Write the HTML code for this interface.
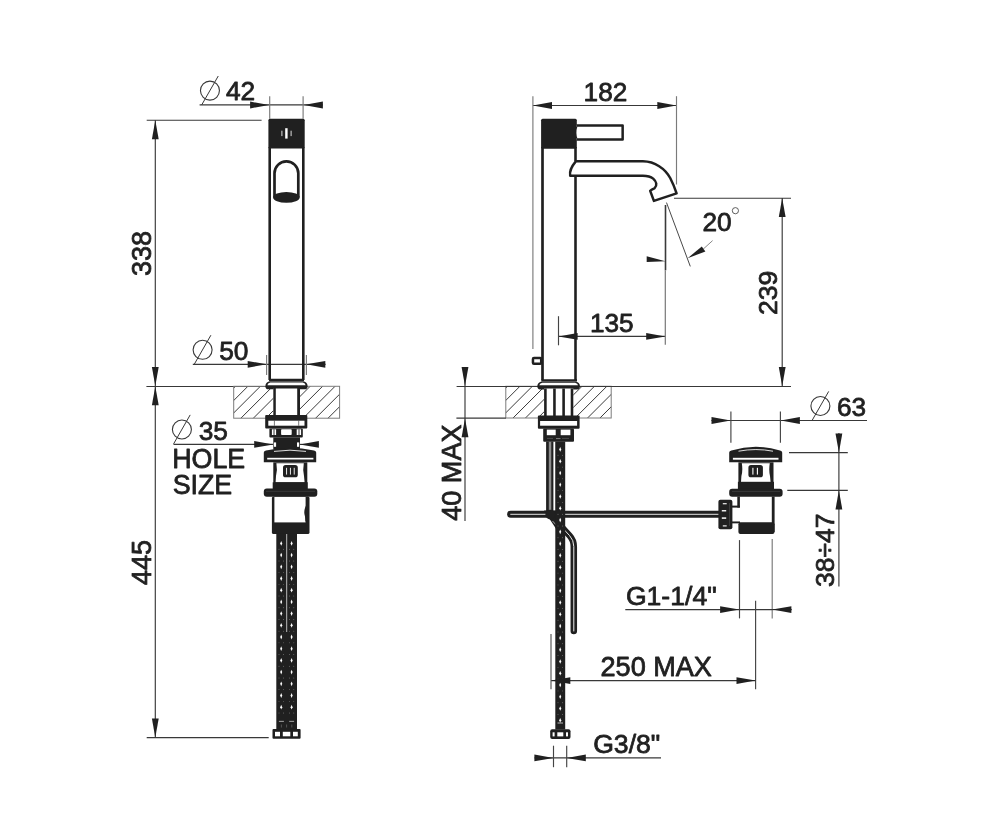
<!DOCTYPE html>
<html><head><meta charset="utf-8"><title>Dimension drawing</title>
<style>
html,body{margin:0;padding:0;background:#fff;}
body{width:988px;height:830px;overflow:hidden;}
svg{display:block;will-change:transform;filter:grayscale(1);}
svg text{font-family:"Liberation Sans",sans-serif;fill:#231f20;stroke:#231f20;stroke-width:0.8px;stroke-linejoin:round;}
</style></head>
<body>
<svg width="988" height="830" viewBox="0 0 988 830">
<rect x="0" y="0" width="988" height="830" fill="#ffffff"/>
<circle cx="209.95" cy="90.6" r="9.5" fill="none" stroke="#383838" stroke-width="1.1"/>
<line x1="201.64999999999998" y1="105.0" x2="218.25" y2="76.0" stroke="#383838" stroke-width="1" />
<text x="225.9" y="99.7" font-size="26.3" text-anchor="start" letter-spacing="0">42</text>
<line x1="199.6" y1="104.9" x2="322.8" y2="104.9" stroke="#383838" stroke-width="1.15" />
<polygon points="269.2,105.0 250.1,101.6 250.1,108.4" fill="#231f20"/>
<polygon points="303.8,105.0 322.9,101.6 322.9,108.4" fill="#231f20"/>
<line x1="269.7" y1="96.2" x2="269.7" y2="118.7" stroke="#7a7a7a" stroke-width="1.15" />
<line x1="303.1" y1="96.2" x2="303.1" y2="118.7" stroke="#7a7a7a" stroke-width="1.15" />
<line x1="146.7" y1="120.2" x2="261.6" y2="120.2" stroke="#383838" stroke-width="1.15" />
<line x1="155.3" y1="120.2" x2="155.3" y2="737.6" stroke="#383838" stroke-width="1.15" />
<polygon points="155.3,120.2 151.9,139.3 158.7,139.3" fill="#231f20"/>
<polygon points="155.3,386.0 151.9,366.9 158.7,366.9" fill="#231f20"/>
<polygon points="155.3,386.2 151.9,405.3 158.7,405.3" fill="#231f20"/>
<polygon points="155.3,737.6 151.9,718.5 158.7,718.5" fill="#231f20"/>
<text x="151.3" y="253.5" font-size="27.1" text-anchor="middle" letter-spacing="0" transform="rotate(-90 151.3 253.5)">338</text>
<text x="151.3" y="562.5" font-size="27.1" text-anchor="middle" letter-spacing="0" transform="rotate(-90 151.3 562.5)">445</text>
<line x1="146.4" y1="386.5" x2="266.6" y2="386.5" stroke="#383838" stroke-width="1.15" />
<line x1="146.7" y1="737.6" x2="268.7" y2="737.6" stroke="#383838" stroke-width="1.15" />
<circle cx="202.6" cy="349.8" r="9.5" fill="none" stroke="#383838" stroke-width="1.1"/>
<line x1="194.29999999999998" y1="364.2" x2="210.9" y2="335.2" stroke="#383838" stroke-width="1" />
<text x="219.2" y="359.6" font-size="26.3" text-anchor="start" letter-spacing="0">50</text>
<line x1="192.8" y1="364.3" x2="325.6" y2="364.3" stroke="#383838" stroke-width="1.15" />
<polygon points="266.8,364.3 247.7,360.9 247.7,367.7" fill="#231f20"/>
<polygon points="306.2,364.3 325.3,360.9 325.3,367.7" fill="#231f20"/>
<line x1="266.6" y1="354.9" x2="266.6" y2="375" stroke="#7a7a7a" stroke-width="1.15" />
<line x1="306.4" y1="354.9" x2="306.4" y2="375" stroke="#7a7a7a" stroke-width="1.15" />
<clipPath id="hc1"><rect x="233.7" y="386.3" width="105.9" height="31.9"/></clipPath>
<g clip-path="url(#hc1)">
<line x1="212.55" y1="384.3" x2="176.65" y2="420.2" stroke="#3a3a3a" stroke-width="1.0" />
<line x1="225.0" y1="384.3" x2="189.1" y2="420.2" stroke="#3a3a3a" stroke-width="1.0" />
<line x1="237.45" y1="384.3" x2="201.55" y2="420.2" stroke="#3a3a3a" stroke-width="1.0" />
<line x1="249.9" y1="384.3" x2="214.0" y2="420.2" stroke="#3a3a3a" stroke-width="1.0" />
<line x1="262.35" y1="384.3" x2="226.45" y2="420.2" stroke="#3a3a3a" stroke-width="1.0" />
<line x1="274.8" y1="384.3" x2="238.9" y2="420.2" stroke="#3a3a3a" stroke-width="1.0" />
<line x1="287.25" y1="384.3" x2="251.35" y2="420.2" stroke="#3a3a3a" stroke-width="1.0" />
<line x1="299.7" y1="384.3" x2="263.8" y2="420.2" stroke="#3a3a3a" stroke-width="1.0" />
<line x1="312.15" y1="384.3" x2="276.25" y2="420.2" stroke="#3a3a3a" stroke-width="1.0" />
<line x1="324.6" y1="384.3" x2="288.7" y2="420.2" stroke="#3a3a3a" stroke-width="1.0" />
<line x1="337.05" y1="384.3" x2="301.15" y2="420.2" stroke="#3a3a3a" stroke-width="1.0" />
<line x1="349.5" y1="384.3" x2="313.6" y2="420.2" stroke="#3a3a3a" stroke-width="1.0" />
<line x1="361.95" y1="384.3" x2="326.05" y2="420.2" stroke="#3a3a3a" stroke-width="1.0" />
<line x1="374.4" y1="384.3" x2="338.5" y2="420.2" stroke="#3a3a3a" stroke-width="1.0" />
</g>
<rect x="233.7" y="386.3" width="105.9" height="31.9" fill="none" stroke="#7c7c7c" stroke-width="1" rx="0"/>
<rect x="268.4" y="118.8" width="36.3" height="29.8" fill="#231f20" stroke="none" stroke-width="0" rx="1.5"/>
<rect x="285.2" y="128.2" width="2.4" height="10.4" fill="#fff" stroke="none" stroke-width="0" rx="0"/>
<rect x="281.4" y="130.7" width="1.0" height="5.4" fill="#ddd" stroke="none" stroke-width="0" rx="0"/>
<rect x="290.6" y="130.7" width="1.0" height="5.4" fill="#ddd" stroke="none" stroke-width="0" rx="0"/>
<line x1="269.7" y1="147" x2="269.7" y2="380" stroke="#231f20" stroke-width="2.6" />
<line x1="303.3" y1="147" x2="303.3" y2="380" stroke="#231f20" stroke-width="2.6" />
<line x1="269" y1="379.8" x2="304" y2="379.8" stroke="#231f20" stroke-width="2.2" />
<path d="M274.5,197 L274.5,173.3 A11.9,11.9 0 0 1 298.3,173.3 L298.3,197" fill="#fff" stroke="#231f20" stroke-width="2.7"/>
<ellipse cx="286.4" cy="197.4" rx="13.3" ry="5.4" fill="#231f20"/>
<path d="M269.5,381.2 L303.5,381.2 Q307.6,382.3 307.6,386.2 Q307.6,389.3 304.8,389.3 L268.2,389.3 Q265.4,389.3 265.4,386.2 Q265.4,382.3 269.5,381.2 Z" fill="#231f20"/>
<path d="M270.2,382.6 L302.8,382.6 Q305.4,383.3 305.6,385.2 L267.4,385.2 Q267.6,383.3 270.2,382.6 Z" fill="#fff"/>
<rect x="273.3" y="388.5" width="26.7" height="27.5" fill="#fff" stroke="none" stroke-width="0" rx="0"/>
<line x1="274.55" y1="388" x2="274.55" y2="416" stroke="#231f20" stroke-width="2.5" />
<line x1="298.6" y1="388" x2="298.6" y2="416" stroke="#231f20" stroke-width="2.8" />
<rect x="265.2" y="415.1" width="42.1" height="13.4" fill="#231f20" stroke="none" stroke-width="0" rx="1"/>
<rect x="268.3" y="420.7" width="36.2" height="5.0" fill="#fff" stroke="none" stroke-width="0" rx="0"/>
<line x1="274.4" y1="420.7" x2="274.4" y2="425.7" stroke="#231f20" stroke-width="0.6" />
<line x1="298.7" y1="420.7" x2="298.7" y2="425.7" stroke="#231f20" stroke-width="0.6" />
<rect x="269.4" y="428.4" width="33.4" height="9.2" fill="#231f20" stroke="none" stroke-width="0" rx="1"/>
<rect x="281.1" y="429.3" width="10.6" height="5.7" fill="#fff" stroke="none" stroke-width="0" rx="0.8"/>
<rect x="271.9" y="429.3" width="4.2" height="5.7" fill="#fff" stroke="none" stroke-width="0" rx="0"/>
<line x1="274" y1="429.3" x2="274" y2="435" stroke="#231f20" stroke-width="0.9" />
<rect x="296.7" y="429.3" width="4.4" height="5.7" fill="#fff" stroke="none" stroke-width="0" rx="0"/>
<line x1="299" y1="429.3" x2="299" y2="435" stroke="#231f20" stroke-width="0.9" />
<rect x="273.3" y="437.4" width="26.7" height="12.1" fill="#231f20" stroke="none" stroke-width="0" rx="0"/>
<rect x="273.9" y="442.4" width="2.2" height="4.4" fill="#fff" stroke="none" stroke-width="0" rx="0"/>
<rect x="297" y="442.4" width="2.2" height="4.4" fill="#fff" stroke="none" stroke-width="0" rx="0"/>
<circle cx="181.9" cy="429.5" r="9.5" fill="none" stroke="#383838" stroke-width="1.1"/>
<line x1="173.6" y1="443.9" x2="190.20000000000002" y2="414.9" stroke="#383838" stroke-width="1" />
<text x="198.7" y="439.5" font-size="26.3" text-anchor="start" letter-spacing="0">35</text>
<line x1="173.5" y1="444.4" x2="273" y2="444.4" stroke="#383838" stroke-width="1.15" />
<line x1="300" y1="444.4" x2="318.5" y2="444.4" stroke="#383838" stroke-width="1.15" />
<polygon points="273.3,444.4 254.2,441.0 254.2,447.8" fill="#231f20"/>
<polygon points="299.8,444.4 318.9,441.0 318.9,447.8" fill="#231f20"/>
<text x="172.2" y="468.0" font-size="26.8" text-anchor="start" letter-spacing="0">HOLE</text>
<text x="172.7" y="494.3" font-size="26.8" text-anchor="start" letter-spacing="0">SIZE</text>
<path d="M263.8,462.3 L263.8,452.5 Q263.8,450.8 266,450.4 Q290,445.0 314,450.4 Q316.2,450.8 316.2,452.5 L316.2,462.3 Z" fill="#231f20"/>
<path d="M274,451.4 Q290,449.0 306,451.4" fill="none" stroke="#f4f4f4" stroke-width="0.9"/>
<rect x="267.2" y="457.8" width="46.2" height="1.7" fill="#fff" stroke="none" stroke-width="0" rx="0"/>
<rect x="273.3" y="462.3" width="34.0" height="20.7" fill="#231f20" stroke="none" stroke-width="0" rx="0"/>
<path d="M276.4,463.3 Q277.6,470 276.0,476 L275.6,482.3 L304.6,482.3 L304.0,476 Q302.6,470 303.8,463.3 Z" fill="#fff"/>
<rect x="283" y="465.1" width="14.8" height="12.2" fill="#231f20" stroke="none" stroke-width="0" rx="2.6"/>
<rect x="286.15000000000003" y="467.8" width="0.9" height="6.8" fill="#fff" stroke="none" stroke-width="0" rx="0"/>
<rect x="289.95" y="467.8" width="0.9" height="6.8" fill="#fff" stroke="none" stroke-width="0" rx="0"/>
<rect x="293.75" y="467.8" width="0.9" height="6.8" fill="#fff" stroke="none" stroke-width="0" rx="0"/>
<rect x="272.7" y="482.3" width="35.1" height="7.2" fill="#231f20" stroke="none" stroke-width="0" rx="0"/>
<rect x="263.8" y="488.4" width="53.5" height="8.4" fill="#231f20" stroke="none" stroke-width="0" rx="3"/>
<line x1="266" y1="491.3" x2="315" y2="491.3" stroke="#555" stroke-width="0.5" />
<rect x="271.9" y="496.5" width="37.6" height="37.5" fill="#231f20" stroke="none" stroke-width="0" rx="1.6"/>
<rect x="274.4" y="497" width="31.2" height="25.4" fill="#fff" stroke="none" stroke-width="0" rx="0"/>
<path d="M305.8,506 Q303.2,511.5 305,516.5 L305.4,521.5 L307,521.5 L307,504 Z" fill="#231f20"/>
<rect x="276.3" y="533.5" width="20.7" height="195.7" fill="#231f20" stroke="none" stroke-width="0" rx="0"/>
<line x1="286.7" y1="534" x2="286.7" y2="632" stroke="#fff" stroke-width="0.7" />
<path d="M281.2,541.0 L282.2,543.4 L281.2,545.8 L280.2,543.4 Z" fill="#fff"/>
<circle cx="279.0" cy="549.25" r="0.45" fill="#999"/>
<circle cx="283.4" cy="549.25" r="0.45" fill="#999"/>
<path d="M291.6,541.0 L292.6,543.4 L291.6,545.8 L290.6,543.4 Z" fill="#fff"/>
<circle cx="289.40000000000003" cy="549.25" r="0.45" fill="#999"/>
<circle cx="293.8" cy="549.25" r="0.45" fill="#999"/>
<path d="M281.2,552.7 L282.2,555.1 L281.2,557.5 L280.2,555.1 Z" fill="#fff"/>
<circle cx="279.0" cy="560.95" r="0.45" fill="#999"/>
<circle cx="283.4" cy="560.95" r="0.45" fill="#999"/>
<path d="M291.6,552.7 L292.6,555.1 L291.6,557.5 L290.6,555.1 Z" fill="#fff"/>
<circle cx="289.40000000000003" cy="560.95" r="0.45" fill="#999"/>
<circle cx="293.8" cy="560.95" r="0.45" fill="#999"/>
<path d="M281.2,564.4 L282.2,566.8 L281.2,569.2 L280.2,566.8 Z" fill="#fff"/>
<circle cx="279.0" cy="572.65" r="0.45" fill="#999"/>
<circle cx="283.4" cy="572.65" r="0.45" fill="#999"/>
<path d="M291.6,564.4 L292.6,566.8 L291.6,569.2 L290.6,566.8 Z" fill="#fff"/>
<circle cx="289.40000000000003" cy="572.65" r="0.45" fill="#999"/>
<circle cx="293.8" cy="572.65" r="0.45" fill="#999"/>
<path d="M281.2,576.1 L282.2,578.5 L281.2,580.9 L280.2,578.5 Z" fill="#fff"/>
<circle cx="279.0" cy="584.35" r="0.45" fill="#999"/>
<circle cx="283.4" cy="584.35" r="0.45" fill="#999"/>
<path d="M291.6,576.1 L292.6,578.5 L291.6,580.9 L290.6,578.5 Z" fill="#fff"/>
<circle cx="289.40000000000003" cy="584.35" r="0.45" fill="#999"/>
<circle cx="293.8" cy="584.35" r="0.45" fill="#999"/>
<path d="M281.2,587.8 L282.2,590.2 L281.2,592.6 L280.2,590.2 Z" fill="#fff"/>
<circle cx="279.0" cy="596.05" r="0.45" fill="#999"/>
<circle cx="283.4" cy="596.05" r="0.45" fill="#999"/>
<path d="M291.6,587.8 L292.6,590.2 L291.6,592.6 L290.6,590.2 Z" fill="#fff"/>
<circle cx="289.40000000000003" cy="596.05" r="0.45" fill="#999"/>
<circle cx="293.8" cy="596.05" r="0.45" fill="#999"/>
<path d="M281.2,599.5 L282.2,601.9 L281.2,604.3 L280.2,601.9 Z" fill="#fff"/>
<circle cx="279.0" cy="607.75" r="0.45" fill="#999"/>
<circle cx="283.4" cy="607.75" r="0.45" fill="#999"/>
<path d="M291.6,599.5 L292.6,601.9 L291.6,604.3 L290.6,601.9 Z" fill="#fff"/>
<circle cx="289.40000000000003" cy="607.75" r="0.45" fill="#999"/>
<circle cx="293.8" cy="607.75" r="0.45" fill="#999"/>
<path d="M281.2,611.2 L282.2,613.6 L281.2,616.0 L280.2,613.6 Z" fill="#fff"/>
<circle cx="279.0" cy="619.45" r="0.45" fill="#999"/>
<circle cx="283.4" cy="619.45" r="0.45" fill="#999"/>
<path d="M291.6,611.2 L292.6,613.6 L291.6,616.0 L290.6,613.6 Z" fill="#fff"/>
<circle cx="289.40000000000003" cy="619.45" r="0.45" fill="#999"/>
<circle cx="293.8" cy="619.45" r="0.45" fill="#999"/>
<path d="M281.2,622.9 L282.2,625.3 L281.2,627.7 L280.2,625.3 Z" fill="#fff"/>
<circle cx="279.0" cy="631.15" r="0.45" fill="#999"/>
<circle cx="283.4" cy="631.15" r="0.45" fill="#999"/>
<path d="M291.6,622.9 L292.6,625.3 L291.6,627.7 L290.6,625.3 Z" fill="#fff"/>
<circle cx="289.40000000000003" cy="631.15" r="0.45" fill="#999"/>
<circle cx="293.8" cy="631.15" r="0.45" fill="#999"/>
<path d="M281.2,634.6 L282.2,637.0 L281.2,639.4 L280.2,637.0 Z" fill="#fff"/>
<circle cx="279.0" cy="642.85" r="0.45" fill="#999"/>
<circle cx="283.4" cy="642.85" r="0.45" fill="#999"/>
<path d="M291.6,634.6 L292.6,637.0 L291.6,639.4 L290.6,637.0 Z" fill="#fff"/>
<circle cx="289.40000000000003" cy="642.85" r="0.45" fill="#999"/>
<circle cx="293.8" cy="642.85" r="0.45" fill="#999"/>
<path d="M281.2,646.3 L282.2,648.7 L281.2,651.1 L280.2,648.7 Z" fill="#fff"/>
<circle cx="279.0" cy="654.55" r="0.45" fill="#999"/>
<circle cx="283.4" cy="654.55" r="0.45" fill="#999"/>
<path d="M291.6,646.3 L292.6,648.7 L291.6,651.1 L290.6,648.7 Z" fill="#fff"/>
<circle cx="289.40000000000003" cy="654.55" r="0.45" fill="#999"/>
<circle cx="293.8" cy="654.55" r="0.45" fill="#999"/>
<path d="M281.2,658.0 L282.2,660.4 L281.2,662.8 L280.2,660.4 Z" fill="#fff"/>
<circle cx="279.0" cy="666.25" r="0.45" fill="#999"/>
<circle cx="283.4" cy="666.25" r="0.45" fill="#999"/>
<path d="M291.6,658.0 L292.6,660.4 L291.6,662.8 L290.6,660.4 Z" fill="#fff"/>
<circle cx="289.40000000000003" cy="666.25" r="0.45" fill="#999"/>
<circle cx="293.8" cy="666.25" r="0.45" fill="#999"/>
<path d="M281.2,669.7 L282.2,672.1 L281.2,674.5 L280.2,672.1 Z" fill="#fff"/>
<circle cx="279.0" cy="677.95" r="0.45" fill="#999"/>
<circle cx="283.4" cy="677.95" r="0.45" fill="#999"/>
<path d="M291.6,669.7 L292.6,672.1 L291.6,674.5 L290.6,672.1 Z" fill="#fff"/>
<circle cx="289.40000000000003" cy="677.95" r="0.45" fill="#999"/>
<circle cx="293.8" cy="677.95" r="0.45" fill="#999"/>
<path d="M281.2,681.4 L282.2,683.8 L281.2,686.2 L280.2,683.8 Z" fill="#fff"/>
<circle cx="279.0" cy="689.65" r="0.45" fill="#999"/>
<circle cx="283.4" cy="689.65" r="0.45" fill="#999"/>
<path d="M291.6,681.4 L292.6,683.8 L291.6,686.2 L290.6,683.8 Z" fill="#fff"/>
<circle cx="289.40000000000003" cy="689.65" r="0.45" fill="#999"/>
<circle cx="293.8" cy="689.65" r="0.45" fill="#999"/>
<path d="M281.2,693.1 L282.2,695.5 L281.2,697.9 L280.2,695.5 Z" fill="#fff"/>
<circle cx="279.0" cy="701.35" r="0.45" fill="#999"/>
<circle cx="283.4" cy="701.35" r="0.45" fill="#999"/>
<path d="M291.6,693.1 L292.6,695.5 L291.6,697.9 L290.6,695.5 Z" fill="#fff"/>
<circle cx="289.40000000000003" cy="701.35" r="0.45" fill="#999"/>
<circle cx="293.8" cy="701.35" r="0.45" fill="#999"/>
<path d="M281.2,704.8 L282.2,707.2 L281.2,709.6 L280.2,707.2 Z" fill="#fff"/>
<circle cx="279.0" cy="713.05" r="0.45" fill="#999"/>
<circle cx="283.4" cy="713.05" r="0.45" fill="#999"/>
<path d="M291.6,704.8 L292.6,707.2 L291.6,709.6 L290.6,707.2 Z" fill="#fff"/>
<circle cx="289.40000000000003" cy="713.05" r="0.45" fill="#999"/>
<circle cx="293.8" cy="713.05" r="0.45" fill="#999"/>
<rect x="278.9" y="720.9" width="5.0" height="0.7" fill="#ddd" stroke="none" stroke-width="0" rx="0"/>
<rect x="289.2" y="720.9" width="4.9" height="0.7" fill="#ddd" stroke="none" stroke-width="0" rx="0"/>
<line x1="281.4" y1="724.5" x2="281.4" y2="727.5" stroke="#888" stroke-width="0.5" />
<line x1="286.6" y1="724.5" x2="286.6" y2="727.5" stroke="#888" stroke-width="0.5" />
<line x1="291.8" y1="724.5" x2="291.8" y2="727.5" stroke="#888" stroke-width="0.5" />
<rect x="272.5" y="729" width="28.1" height="9.8" fill="#231f20" stroke="none" stroke-width="0" rx="1"/>
<rect x="275" y="731.8" width="5" height="4.5" fill="#fff" stroke="none" stroke-width="0" rx="0"/>
<rect x="282.8" y="731.8" width="7.5" height="4.5" fill="#fff" stroke="none" stroke-width="0" rx="0"/>
<rect x="293" y="731.8" width="4.8" height="4.5" fill="#fff" stroke="none" stroke-width="0" rx="0"/>
<text x="583.6" y="100.5" font-size="26.2" text-anchor="start" letter-spacing="0">182</text>
<line x1="532.9" y1="105.5" x2="676.4" y2="105.5" stroke="#383838" stroke-width="1.15" />
<polygon points="532.9,105.5 552.0,102.1 552.0,108.9" fill="#231f20"/>
<polygon points="676.4,105.5 657.3,102.1 657.3,108.9" fill="#231f20"/>
<line x1="532.9" y1="96.2" x2="532.9" y2="349" stroke="#7a7a7a" stroke-width="1.15" />
<line x1="676.5" y1="96.2" x2="676.5" y2="184.5" stroke="#7a7a7a" stroke-width="1.15" />
<clipPath id="hc2"><rect x="505.8" y="386.3" width="105.4" height="31.7"/></clipPath>
<g clip-path="url(#hc2)">
<line x1="484.64" y1="384.3" x2="448.94" y2="420.0" stroke="#3a3a3a" stroke-width="1.0" />
<line x1="497.06" y1="384.3" x2="461.36" y2="420.0" stroke="#3a3a3a" stroke-width="1.0" />
<line x1="509.48" y1="384.3" x2="473.78" y2="420.0" stroke="#3a3a3a" stroke-width="1.0" />
<line x1="521.9" y1="384.3" x2="486.2" y2="420.0" stroke="#3a3a3a" stroke-width="1.0" />
<line x1="534.32" y1="384.3" x2="498.62" y2="420.0" stroke="#3a3a3a" stroke-width="1.0" />
<line x1="546.74" y1="384.3" x2="511.04" y2="420.0" stroke="#3a3a3a" stroke-width="1.0" />
<line x1="559.16" y1="384.3" x2="523.46" y2="420.0" stroke="#3a3a3a" stroke-width="1.0" />
<line x1="571.58" y1="384.3" x2="535.88" y2="420.0" stroke="#3a3a3a" stroke-width="1.0" />
<line x1="584.0" y1="384.3" x2="548.3" y2="420.0" stroke="#3a3a3a" stroke-width="1.0" />
<line x1="596.42" y1="384.3" x2="560.72" y2="420.0" stroke="#3a3a3a" stroke-width="1.0" />
<line x1="608.84" y1="384.3" x2="573.14" y2="420.0" stroke="#3a3a3a" stroke-width="1.0" />
<line x1="621.26" y1="384.3" x2="585.56" y2="420.0" stroke="#3a3a3a" stroke-width="1.0" />
<line x1="633.68" y1="384.3" x2="597.98" y2="420.0" stroke="#3a3a3a" stroke-width="1.0" />
<line x1="646.1" y1="384.3" x2="610.4" y2="420.0" stroke="#3a3a3a" stroke-width="1.0" />
</g>
<rect x="505.8" y="386.3" width="105.4" height="31.7" fill="none" stroke="#7c7c7c" stroke-width="1" rx="0"/>
<line x1="456.6" y1="386.5" x2="791" y2="386.5" stroke="#383838" stroke-width="1.15" />
<line x1="456.4" y1="418.1" x2="505.9" y2="418.1" stroke="#383838" stroke-width="1.15" />
<rect x="541.1" y="118.7" width="35.7" height="30.1" fill="#231f20" stroke="none" stroke-width="0" rx="1.5"/>
<line x1="542.5" y1="147" x2="542.5" y2="380.5" stroke="#231f20" stroke-width="2.7" />
<line x1="575.5" y1="147" x2="575.5" y2="161" stroke="#231f20" stroke-width="2.6" />
<line x1="575.5" y1="176.5" x2="575.5" y2="380.5" stroke="#231f20" stroke-width="2.6" />
<line x1="541.5" y1="380.4" x2="577" y2="380.4" stroke="#231f20" stroke-width="2.4" />
<path d="M576.5,125.55 L622.65,125.55 L622.65,139.4 L576.5,139.4" fill="#fff" stroke="#231f20" stroke-width="2.5" stroke-linejoin="round"/>
<path d="M577.5,126.5 Q574.6,132.5 577.5,138.5 L575.5,138.5 L575.5,126.5 Z" fill="#231f20"/>
<path d="M575.8,161.35 L642.9,161.35 C655,161.6 665,168.5 670.2,178 C673,183.5 675,188.5 676.6,193.4 L653.9,200.9 L650.2,190.9 C651.5,189.6 653,189 654.6,188.2 C657.4,185.4 656.6,181.6 653.2,178.6 C650.5,176.4 647,175.7 642.9,175.7 L570.2,175.7 C569.3,171.5 571.5,166.5 575.8,161.35 Z" fill="#fff" stroke="#231f20" stroke-width="2.5" stroke-linejoin="round"/>
<rect x="532.95" y="357.95" width="8.25" height="5.85" fill="#fff" stroke="#231f20" stroke-width="2.5" rx="1"/>
<path d="M541.5,381.4 L575.8,381.4 Q580,382.5 580,386.3 Q580,389.4 577.2,389.4 L540.1,389.4 Q537.3,389.4 537.3,386.3 Q537.3,382.5 541.5,381.4 Z" fill="#231f20"/>
<path d="M542.2,382.8 L575.1,382.8 Q577.8,383.5 578,385.3 L539.3,385.3 Q539.5,383.5 542.2,382.8 Z" fill="#fff"/>
<rect x="544" y="388.5" width="29.3" height="27.5" fill="#fff" stroke="none" stroke-width="0" rx="0"/>
<line x1="545.4" y1="388.5" x2="545.4" y2="416" stroke="#231f20" stroke-width="2.6" />
<line x1="554.45" y1="388.5" x2="554.45" y2="416" stroke="#231f20" stroke-width="2.6" />
<line x1="563.6" y1="388.5" x2="563.6" y2="416" stroke="#231f20" stroke-width="2.6" />
<line x1="572.0" y1="388.5" x2="572.0" y2="416" stroke="#231f20" stroke-width="2.6" />
<rect x="537.9" y="415.4" width="41.7" height="13.3" fill="#231f20" stroke="none" stroke-width="0" rx="1"/>
<rect x="540.1" y="421.0" width="37.0" height="4.7" fill="#fff" stroke="none" stroke-width="0" rx="0"/>
<rect x="543.2" y="428.6" width="30.8" height="13.1" fill="#231f20" stroke="none" stroke-width="0" rx="1"/>
<rect x="546.8" y="429.6" width="8.9" height="5.6" fill="#fff" stroke="none" stroke-width="0" rx="0"/>
<rect x="560.7" y="429.6" width="9.7" height="5.6" fill="#fff" stroke="none" stroke-width="0" rx="0"/>
<line x1="547" y1="438.4" x2="553" y2="438.4" stroke="#777" stroke-width="0.5" />
<line x1="562" y1="438.4" x2="569" y2="438.4" stroke="#777" stroke-width="0.5" />
<line x1="556" y1="438.6" x2="560.5" y2="438.6" stroke="#999" stroke-width="0.8" />
<rect x="546.1" y="441.5" width="9.2" height="70.5" fill="#231f20" stroke="none" stroke-width="0" rx="0"/>
<rect x="548.8" y="441.8" width="2.45" height="69.2" fill="#8c8c8c" stroke="none" stroke-width="0" rx="0"/>
<rect x="553.4" y="441.8" width="1.9" height="69.2" fill="#fff" stroke="none" stroke-width="0" rx="0"/>
<line x1="510.7" y1="514.2" x2="720" y2="514.2" stroke="#231f20" stroke-width="7.0" stroke-linecap="round"/>
<line x1="510.7" y1="514.3" x2="720" y2="514.3" stroke="#e4e4e4" stroke-width="1.0" stroke-linecap="round"/>
<path d="M551.5,516 L569.6,535.6 Q573.8,540.2 573.8,546.5 L573.8,631" fill="none" stroke="#231f20" stroke-width="6.5" stroke-linecap="round"/>
<path d="M551.5,516 L569.6,535.6 Q573.8,540.2 573.8,546.5 L573.8,631" fill="none" stroke="#eee" stroke-width="1.0" stroke-linecap="round"/>
<path d="M544.0,510.6 L559,510.6 L556.5,529.5 Z" fill="#231f20"/>
<circle cx="550.3" cy="514.6" r="4.9" fill="#231f20"/>
<line x1="552.5" y1="521" x2="556" y2="524.8" stroke="#ddd" stroke-width="0.7" />
<rect x="555.3" y="441.5" width="9.9" height="288.0" fill="#231f20" stroke="none" stroke-width="0" rx="0"/>
<path d="M560.2,447.1 L561.2,449.4 L560.2,451.7 L559.2,449.4 Z" fill="#fff"/>
<circle cx="558.0" cy="455.3" r="0.45" fill="#999"/>
<circle cx="562.4000000000001" cy="455.3" r="0.45" fill="#999"/>
<path d="M560.2,458.88 L561.2,461.18 L560.2,463.48 L559.2,461.18 Z" fill="#fff"/>
<circle cx="558.0" cy="467.08" r="0.45" fill="#999"/>
<circle cx="562.4000000000001" cy="467.08" r="0.45" fill="#999"/>
<path d="M560.2,470.66 L561.2,472.96 L560.2,475.26 L559.2,472.96 Z" fill="#fff"/>
<circle cx="558.0" cy="478.86" r="0.45" fill="#999"/>
<circle cx="562.4000000000001" cy="478.86" r="0.45" fill="#999"/>
<path d="M560.2,482.44 L561.2,484.74 L560.2,487.04 L559.2,484.74 Z" fill="#fff"/>
<circle cx="558.0" cy="490.64" r="0.45" fill="#999"/>
<circle cx="562.4000000000001" cy="490.64" r="0.45" fill="#999"/>
<path d="M560.2,494.22 L561.2,496.52 L560.2,498.82 L559.2,496.52 Z" fill="#fff"/>
<circle cx="558.0" cy="502.42" r="0.45" fill="#999"/>
<circle cx="562.4000000000001" cy="502.42" r="0.45" fill="#999"/>
<path d="M560.2,506.0 L561.2,508.3 L560.2,510.6 L559.2,508.3 Z" fill="#fff"/>
<circle cx="558.0" cy="514.2" r="0.45" fill="#999"/>
<circle cx="562.4000000000001" cy="514.2" r="0.45" fill="#999"/>
<path d="M560.2,517.78 L561.2,520.08 L560.2,522.38 L559.2,520.08 Z" fill="#fff"/>
<circle cx="558.0" cy="525.98" r="0.45" fill="#999"/>
<circle cx="562.4000000000001" cy="525.98" r="0.45" fill="#999"/>
<path d="M560.2,529.56 L561.2,531.86 L560.2,534.16 L559.2,531.86 Z" fill="#fff"/>
<circle cx="558.0" cy="537.76" r="0.45" fill="#999"/>
<circle cx="562.4000000000001" cy="537.76" r="0.45" fill="#999"/>
<path d="M560.2,541.34 L561.2,543.64 L560.2,545.94 L559.2,543.64 Z" fill="#fff"/>
<circle cx="558.0" cy="549.54" r="0.45" fill="#999"/>
<circle cx="562.4000000000001" cy="549.54" r="0.45" fill="#999"/>
<path d="M560.2,553.12 L561.2,555.42 L560.2,557.72 L559.2,555.42 Z" fill="#fff"/>
<circle cx="558.0" cy="561.32" r="0.45" fill="#999"/>
<circle cx="562.4000000000001" cy="561.32" r="0.45" fill="#999"/>
<path d="M560.2,564.9 L561.2,567.2 L560.2,569.5 L559.2,567.2 Z" fill="#fff"/>
<circle cx="558.0" cy="573.1" r="0.45" fill="#999"/>
<circle cx="562.4000000000001" cy="573.1" r="0.45" fill="#999"/>
<path d="M560.2,576.68 L561.2,578.98 L560.2,581.28 L559.2,578.98 Z" fill="#fff"/>
<circle cx="558.0" cy="584.88" r="0.45" fill="#999"/>
<circle cx="562.4000000000001" cy="584.88" r="0.45" fill="#999"/>
<path d="M560.2,588.46 L561.2,590.76 L560.2,593.06 L559.2,590.76 Z" fill="#fff"/>
<circle cx="558.0" cy="596.66" r="0.45" fill="#999"/>
<circle cx="562.4000000000001" cy="596.66" r="0.45" fill="#999"/>
<path d="M560.2,600.24 L561.2,602.54 L560.2,604.84 L559.2,602.54 Z" fill="#fff"/>
<circle cx="558.0" cy="608.44" r="0.45" fill="#999"/>
<circle cx="562.4000000000001" cy="608.44" r="0.45" fill="#999"/>
<path d="M560.2,612.02 L561.2,614.32 L560.2,616.62 L559.2,614.32 Z" fill="#fff"/>
<circle cx="558.0" cy="620.22" r="0.45" fill="#999"/>
<circle cx="562.4000000000001" cy="620.22" r="0.45" fill="#999"/>
<path d="M560.2,623.8 L561.2,626.1 L560.2,628.4 L559.2,626.1 Z" fill="#fff"/>
<circle cx="558.0" cy="632.0" r="0.45" fill="#999"/>
<circle cx="562.4000000000001" cy="632.0" r="0.45" fill="#999"/>
<path d="M560.2,635.58 L561.2,637.88 L560.2,640.18 L559.2,637.88 Z" fill="#fff"/>
<circle cx="558.0" cy="643.78" r="0.45" fill="#999"/>
<circle cx="562.4000000000001" cy="643.78" r="0.45" fill="#999"/>
<path d="M560.2,647.36 L561.2,649.66 L560.2,651.96 L559.2,649.66 Z" fill="#fff"/>
<circle cx="558.0" cy="655.56" r="0.45" fill="#999"/>
<circle cx="562.4000000000001" cy="655.56" r="0.45" fill="#999"/>
<path d="M560.2,659.14 L561.2,661.44 L560.2,663.74 L559.2,661.44 Z" fill="#fff"/>
<circle cx="558.0" cy="667.34" r="0.45" fill="#999"/>
<circle cx="562.4000000000001" cy="667.34" r="0.45" fill="#999"/>
<path d="M560.2,670.92 L561.2,673.22 L560.2,675.52 L559.2,673.22 Z" fill="#fff"/>
<circle cx="558.0" cy="679.12" r="0.45" fill="#999"/>
<circle cx="562.4000000000001" cy="679.12" r="0.45" fill="#999"/>
<path d="M560.2,682.7 L561.2,685.0 L560.2,687.3 L559.2,685.0 Z" fill="#fff"/>
<circle cx="558.0" cy="690.9" r="0.45" fill="#999"/>
<circle cx="562.4000000000001" cy="690.9" r="0.45" fill="#999"/>
<path d="M560.2,694.48 L561.2,696.78 L560.2,699.08 L559.2,696.78 Z" fill="#fff"/>
<circle cx="558.0" cy="702.68" r="0.45" fill="#999"/>
<circle cx="562.4000000000001" cy="702.68" r="0.45" fill="#999"/>
<path d="M560.2,706.26 L561.2,708.56 L560.2,710.86 L559.2,708.56 Z" fill="#fff"/>
<circle cx="558.0" cy="714.46" r="0.45" fill="#999"/>
<circle cx="562.4000000000001" cy="714.46" r="0.45" fill="#999"/>
<path d="M560.2,718.04 L561.2,720.34 L560.2,722.64 L559.2,720.34 Z" fill="#fff"/>
<rect x="550.2" y="729.3" width="20.3" height="9.6" fill="#231f20" stroke="none" stroke-width="0" rx="2"/>
<rect x="552.6" y="732.3" width="2.0" height="4.1" fill="#fff" stroke="none" stroke-width="0" rx="0"/>
<rect x="557.3" y="732.3" width="6.0" height="4.1" fill="#fff" stroke="none" stroke-width="0" rx="0"/>
<rect x="566" y="732.3" width="2" height="4.1" fill="#fff" stroke="none" stroke-width="0" rx="0"/>
<rect x="557.5" y="722.6" width="5.5" height="0.8" fill="#ddd" stroke="none" stroke-width="0" rx="0"/>
<text x="589.9" y="331.5" font-size="26.2" text-anchor="start" letter-spacing="0">135</text>
<line x1="558.5" y1="336.4" x2="665.3" y2="336.4" stroke="#383838" stroke-width="1.15" />
<polygon points="558.5,336.4 577.6,333.0 577.6,339.8" fill="#231f20"/>
<polygon points="665.3,336.4 646.2,333.0 646.2,339.8" fill="#231f20"/>
<line x1="558.5" y1="316.2" x2="558.5" y2="345.3" stroke="#444" stroke-width="1.15" />
<line x1="665.5" y1="205.0" x2="665.5" y2="270.3" stroke="#3a3a3a" stroke-width="1.6" />
<line x1="665.3" y1="270.3" x2="665.3" y2="344.8" stroke="#777" stroke-width="1.2" />
<line x1="666.5" y1="202.6" x2="690.3" y2="266.4" stroke="#333" stroke-width="0.9" />
<polygon points="665.4,261.2 646.7,256.2 646.7,262.1" fill="#231f20"/>
<polygon points="687.6,258.2 701.8,246.6 705.4,251.5" fill="#231f20"/>
<line x1="703" y1="249.3" x2="712.6" y2="240.6" stroke="#555" stroke-width="0.7" />
<text x="702.5" y="231.4" font-size="26.2" text-anchor="start" letter-spacing="0">20</text>
<circle cx="735.4" cy="210.7" r="3.1" fill="none" stroke="#383838" stroke-width="0.8"/>
<line x1="674" y1="198.2" x2="791" y2="198.2" stroke="#383838" stroke-width="1.15" />
<line x1="782.2" y1="198" x2="782.2" y2="386" stroke="#383838" stroke-width="1.15" />
<polygon points="782.2,198.0 778.8,217.1 785.6,217.1" fill="#231f20"/>
<polygon points="782.2,386.2 778.8,367.1 785.6,367.1" fill="#231f20"/>
<text x="777.4" y="292.9" font-size="26.6" text-anchor="middle" letter-spacing="0" transform="rotate(-90 777.4 292.9)">239</text>
<line x1="465.0" y1="367" x2="465.0" y2="521" stroke="#383838" stroke-width="1.15" />
<polygon points="465.0,386.0 461.6,366.9 468.4,366.9" fill="#231f20"/>
<polygon points="465.0,418.2 461.6,437.3 468.4,437.3" fill="#231f20"/>
<text x="460.6" y="472.6" font-size="27.1" text-anchor="middle" letter-spacing="0" transform="rotate(-90 460.6 472.6)">40 MAX</text>
<circle cx="820.4" cy="406.0" r="9.5" fill="none" stroke="#383838" stroke-width="1.1"/>
<line x1="812.1" y1="420.4" x2="828.6999999999999" y2="391.4" stroke="#383838" stroke-width="1" />
<text x="836.9" y="415.6" font-size="26.2" text-anchor="start" letter-spacing="0">63</text>
<line x1="711.4" y1="420.5" x2="867" y2="420.5" stroke="#383838" stroke-width="1.15" />
<polygon points="730.6,420.5 711.5,417.1 711.5,423.9" fill="#231f20"/>
<polygon points="780.8,420.5 799.9,417.1 799.9,423.9" fill="#231f20"/>
<line x1="730.9" y1="411.6" x2="730.9" y2="442.8" stroke="#444" stroke-width="1.15" />
<line x1="780.4" y1="411.6" x2="780.4" y2="442.8" stroke="#444" stroke-width="1.15" />
<line x1="789" y1="452.6" x2="847.8" y2="452.6" stroke="#383838" stroke-width="1.15" />
<line x1="787.3" y1="490.3" x2="847.8" y2="490.3" stroke="#383838" stroke-width="1.15" />
<line x1="838.9" y1="433" x2="838.9" y2="586.6" stroke="#383838" stroke-width="1.15" />
<polygon points="838.9,452.6 835.5,433.5 842.3,433.5" fill="#231f20"/>
<polygon points="838.9,490.3 835.5,509.4 842.3,509.4" fill="#231f20"/>
<text x="834.3" y="550.2" font-size="26.5" text-anchor="middle" letter-spacing="0" transform="rotate(-90 834.3 550.2)">38÷47</text>
<path d="M729.2,462.3 L729.2,452.5 Q729.2,450.8 731.4,450.4 Q756,443.2 780,450.4 Q782.2,450.8 782.2,452.5 L782.2,462.3 Z" fill="#231f20"/>
<path d="M738.5,451.2 Q756,447.9 773,451.2" fill="none" stroke="#f4f4f4" stroke-width="0.9"/>
<rect x="732.9" y="457.8" width="45.6" height="1.9" fill="#fff" stroke="none" stroke-width="0" rx="0"/>
<rect x="738.4" y="462.3" width="35.1" height="20.7" fill="#231f20" stroke="none" stroke-width="0" rx="0"/>
<path d="M741.8,463.3 Q743,470 741.4,476 L741.0,482.0 L770.6,482.0 L770.0,476 Q768.6,470 769.8,463.3 Z" fill="#fff"/>
<rect x="748.4" y="465.1" width="14.5" height="12.2" fill="#231f20" stroke="none" stroke-width="0" rx="2.6"/>
<rect x="752.35" y="467.8" width="1.1" height="6.8" fill="#fff" stroke="none" stroke-width="0" rx="0"/>
<rect x="756.85" y="467.8" width="1.1" height="6.8" fill="#fff" stroke="none" stroke-width="0" rx="0"/>
<rect x="737.9" y="481.8" width="36.1" height="7.7" fill="#231f20" stroke="none" stroke-width="0" rx="0"/>
<rect x="729.2" y="488.7" width="53.4" height="8.0" fill="#231f20" stroke="none" stroke-width="0" rx="3"/>
<line x1="732" y1="491.4" x2="780" y2="491.4" stroke="#555" stroke-width="0.5" />
<rect x="732.5" y="497" width="39.4" height="25.4" fill="#fff" stroke="none" stroke-width="0" rx="0"/>
<line x1="738.6" y1="496.5" x2="738.6" y2="507.6" stroke="#231f20" stroke-width="2.6" />
<line x1="732" y1="506.6" x2="739.9" y2="506.6" stroke="#231f20" stroke-width="2.0" />
<line x1="773.2" y1="496.5" x2="773.2" y2="532" stroke="#231f20" stroke-width="2.8" />
<line x1="732" y1="522.4" x2="740" y2="522.4" stroke="#231f20" stroke-width="1.9" />
<rect x="738.4" y="522.3" width="36.1" height="11.7" fill="#231f20" stroke="none" stroke-width="0" rx="2"/>
<rect x="718.4" y="499.8" width="14.0" height="29.4" fill="#231f20" stroke="none" stroke-width="0" rx="2"/>
<rect x="722.8" y="503.1" width="3.9" height="1.2" fill="#eee" stroke="none" stroke-width="0" rx="0"/>
<rect x="721.8" y="510.0" width="4.4" height="1.5" fill="#eee" stroke="none" stroke-width="0" rx="0"/>
<rect x="721.8" y="517.3" width="4.4" height="1.6" fill="#eee" stroke="none" stroke-width="0" rx="0"/>
<rect x="722.8" y="525.3" width="3.9" height="1.2" fill="#eee" stroke="none" stroke-width="0" rx="0"/>
<line x1="729.5" y1="503" x2="729.5" y2="526" stroke="#666" stroke-width="0.4" />
<line x1="739.5" y1="540.1" x2="739.5" y2="618.4" stroke="#444" stroke-width="1.15" />
<line x1="772.2" y1="539" x2="772.2" y2="618.4" stroke="#777" stroke-width="1.15" />
<text x="625.9" y="604.6" font-size="26.6" text-anchor="start" letter-spacing="0">G1-1/4"</text>
<line x1="625.3" y1="609.6" x2="772" y2="609.6" stroke="#383838" stroke-width="1.15" />
<line x1="772" y1="609.6" x2="791.8" y2="609.6" stroke="#383838" stroke-width="1.15" />
<polygon points="739.2,609.6 720.1,606.2 720.1,613.0" fill="#231f20"/>
<polygon points="772.3,609.6 791.4,606.2 791.4,613.0" fill="#231f20"/>
<line x1="755.6" y1="600.7" x2="755.6" y2="689.3" stroke="#444" stroke-width="1.15" />
<text x="600.5" y="675.5" font-size="27.1" text-anchor="start" letter-spacing="0">250 MAX</text>
<line x1="551" y1="680.6" x2="755.6" y2="680.6" stroke="#383838" stroke-width="1.15" />
<polygon points="755.6,680.6 736.5,677.2 736.5,684.0" fill="#231f20"/>
<polygon points="551.2,680.6 570.3,677.2 570.3,684.0" fill="#231f20"/>
<line x1="551" y1="633.9" x2="551" y2="689.3" stroke="#555" stroke-width="1.15" />
<text x="593.2" y="752.9" font-size="26.6" text-anchor="start" letter-spacing="0">G3/8"</text>
<line x1="534.5" y1="757.9" x2="661" y2="757.9" stroke="#383838" stroke-width="1.15" />
<polygon points="553.5,757.9 534.4,754.5 534.4,761.3" fill="#231f20"/>
<polygon points="566.7,757.9 585.8,754.5 585.8,761.3" fill="#231f20"/>
<line x1="553.5" y1="745.7" x2="553.5" y2="767.2" stroke="#444" stroke-width="1.15" />
<line x1="566.7" y1="745.7" x2="566.7" y2="767.2" stroke="#444" stroke-width="1.15" />
</svg>
</body></html>
